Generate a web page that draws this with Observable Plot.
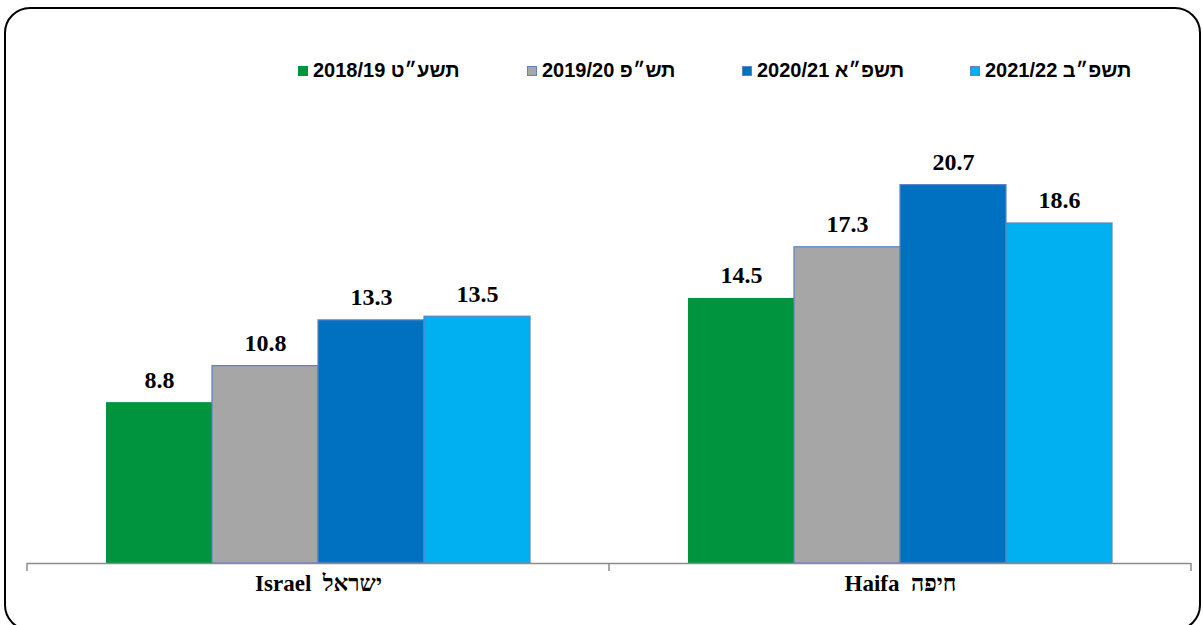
<!DOCTYPE html>
<html>
<head>
<meta charset="utf-8">
<script src="https://cdn.jsdelivr.net/npm/d3@7"></script>
<script src="https://cdn.jsdelivr.net/npm/@observablehq/plot@0.6"></script>
<style>
  body { margin: 0; background: #fff; }
  #wrap { position: relative; width: 1203px; height: 625px; overflow: hidden; }
  #frame { position: absolute; left: 4px; top: 7px; width: 1197px; height: 624px; border: 2px solid #000; border-radius: 26px; box-sizing: border-box; }
  #legend { position: absolute; top: 59px; left: 0; width: 1203px; height: 24px; }
  .item { position: absolute; display: flex; align-items: center; font: bold 20px "Liberation Sans", Arial, sans-serif; color: #000; white-space: nowrap; direction: ltr; }
  .sw { width: 10px; height: 10px; margin-right: 5px; box-sizing: border-box; }
  #chart { position: absolute; left: 0; top: 0; }
</style>
</head>
<body>
<div id="wrap">
  <div id="frame"></div>
  <div id="chart"></div>
  <div id="legend"></div>
</div>
<script>
// Data
const regions = ["Israel\u00a0\u00a0ישראל", "Haifa\u00a0\u00a0חיפה"];
const years = ["2018/19", "2019/20", "2020/21", "2021/22"];
const hebrewYears = ["תשע״ט", "תש״פ", "תשפ״א", "תשפ״ב"];
const israelValues = [8.8, 10.8, 13.3, 13.5];
const haifaValues = [14.5, 17.3, 20.7, 18.6];
const colors = ["#00943f", "#a6a6a6", "#0070c0", "#00b0f0"];
const strokes = ["none", "#5b84c4", "#5b84c4", "#5b84c4"];
const legendX = [298, 527, 742, 970];

const data = [];
years.forEach((y, i) => {
  data.push({region: regions[0], year: y, value: israelValues[i]});
  data.push({region: regions[1], year: y, value: haifaValues[i]});
});

const chart = Plot.plot({
  width: 1203,
  height: 625,
  marginLeft: 27,
  marginRight: 12,
  marginTop: 106,
  marginBottom: 62,
  style: {background: "transparent", overflow: "visible"},
  fx: {domain: regions, padding: 0, label: null},
  x: {domain: years, paddingInner: 0, paddingOuter: 0.743, axis: null},
  y: {domain: [0, 25], axis: null},
  color: {domain: years, range: colors},
  marks: [
    Plot.barY(data, {
      fx: "region", x: "year", y: "value", fill: "year",
      stroke: d => strokes[years.indexOf(d.year)], strokeWidth: 1.2
    }),
    Plot.text(data, {
      fx: "region", x: "year", y: "value", text: d => d.value.toFixed(1),
      lineAnchor: "bottom", dy: -15, fontSize: 24, fontWeight: "bold",
      fontFamily: "Liberation Serif, Times New Roman, serif", fill: "#000"
    }),
    Plot.ruleY([0], {stroke: "#8c8c8c", strokeWidth: 1.5}),
    Plot.axisFx({
      anchor: "bottom", tickSize: 0, tickPadding: 11, label: null,
      fontSize: 23, fontWeight: "bold", fontFamily: "Liberation Serif, Times New Roman, serif",
      color: "#000"
    })
  ]
});
document.getElementById("chart").appendChild(chart);

// Boundary ticks at category edges, from the fx scale
const fx = chart.scale("fx");
const yS = chart.scale("y");
const y0 = yS.apply(0);
const edges = [];
regions.forEach(r => { edges.push(fx.apply(r)); });
edges.push(fx.apply(regions[regions.length - 1]) + fx.bandwidth);
d3.select(chart).append("g")
  .selectAll("line").data(edges).join("line")
  .attr("x1", d => d).attr("x2", d => d)
  .attr("y1", y0).attr("y2", y0 + 8)
  .attr("stroke", "#8c8c8c").attr("stroke-width", 1.5);

// Legend
const legend = d3.select("#legend");
years.forEach((y, i) => {
  const it = legend.append("div").attr("class", "item").style("left", legendX[i] + "px");
  it.append("div").attr("class", "sw")
    .style("background", colors[i])
    .style("border", strokes[i] === "none" ? "none" : `1px solid ${strokes[i]}`);
  it.append("span").text(`${y} ${hebrewYears[i]}`);
});
</script>
</body>
</html>
